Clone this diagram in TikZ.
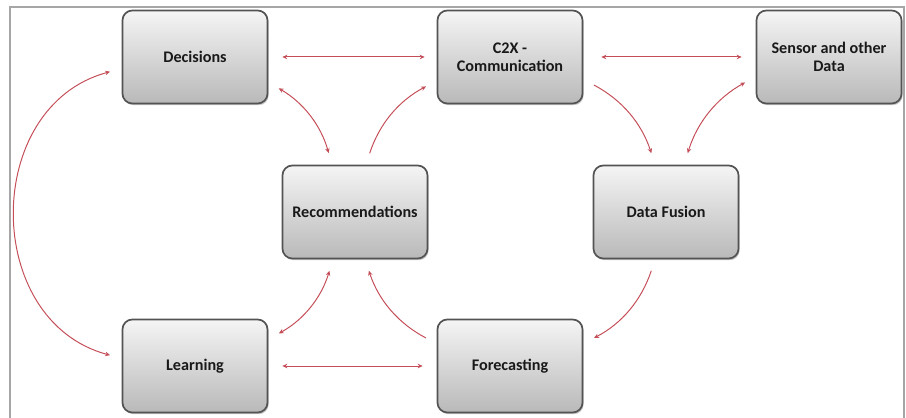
\documentclass[tikz,border=0pt]{standalone}
\usepackage{fontspec}
\setsansfont{Carlito}
\usepackage{tikz}
\usetikzlibrary{arrows.meta,shadows}
\definecolor{linkred}{RGB}{196,78,88}
\tikzset{
  >={Stealth[length=3.5pt,width=3.2pt]},
  box/.style={rectangle, rounded corners=7pt, draw=gray!65!black, line width=1.2pt,
    top color=gray!8, middle color=white, bottom color=gray!55,
    minimum width=3.625cm, minimum height=2.325cm, align=center,
    font=\sffamily\bfseries\fontsize{11.5}{12.5}\selectfont, text=black!90,
    drop shadow={shadow xshift=0.8pt, shadow yshift=-1.2pt, opacity=0.45}},
  link/.style={linkred, line width=0.7pt, shorten <=0.3cm, shorten >=0.3cm},
  frame/.style={gray!70, line width=0.8pt}
}

\begin{document}
\begin{tikzpicture}[x=0.025cm, y=0.025cm]
    \useasboundingbox (0,0) rectangle (906,418);
    \draw[frame] (10,0) -- (10,411) -- (904,411) -- (904,0);

    % top row
    \node[box] (dec) at (195,361) {Decisions};
    \node[box] (c2x) at (510,361) {C2X -\\Communication};
    \node[box] (sens) at (829,361) {Sensor and other\\Data};

    % middle row
    \node[box] (rec) at (355,206) {Recommendations};
    \node[box] (fus) at (666,206) {Data Fusion};

    % bottom row
    \node[box] (learn) at (195,52) {Learning};
    \node[box] (fore) at (510,52) {Forecasting};

    % straight links
    \draw[link, <->, shorten <=0.35cm, shorten >=0.3cm] (dec) -- (c2x);
    \draw[link, <->, shorten <=0.45cm, shorten >=0.35cm] (c2x) -- (sens);
    \draw[link, <->, shorten <=0.35cm, shorten >=0.35cm] (learn) -- (fore);

    % curved links
    \draw[link, <->] (dec.-19) to[bend left=22] (rec.116);
    \draw[link, ->] (rec.77) to[bend left=22] (c2x.-162);
    \draw[link, ->] (c2x.-17) to[bend left=22] (fus.103);
    \draw[link, <->] (fus.69) to[bend left=22] (sens.-165);
    \draw[link, ->] (fus.-103) to[bend left=22] (fore.17);
    \draw[link, ->] (fore.163) to[bend left=22] (rec.-78);
    \draw[link, <->] (rec.-115) to[bend left=22] (learn.20);
    \draw[link, <->] (learn.174) to[bend left=75, looseness=1.28] (dec.189);
\end{tikzpicture}
\end{document}
